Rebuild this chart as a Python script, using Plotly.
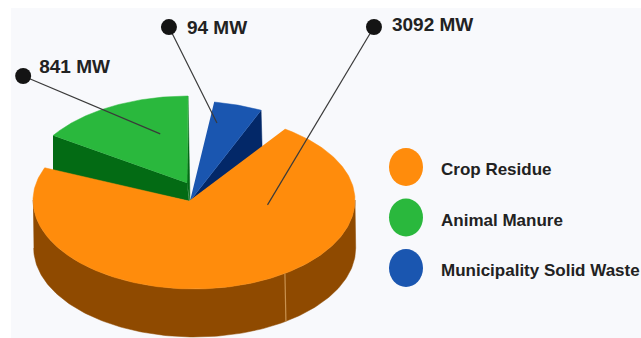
import numpy as np
import plotly.graph_objects as go

# Installed biomass capacity by source
categories = ["Crop Residue", "Animal Manure", "Municipality Solid Waste"]
capacity_mw = [3092, 841, 94]

# Slice palette: top face, side wall
TOP = ["#FF8C0C", "#2AB83D", "#1A56B0"]
WALL = ["#8F4A00", "#036B14", "#032868"]

WIDTH, HEIGHT = 641, 338
RX = 161

total = sum(capacity_mw)
sweep = [v / total * 360 for v in capacity_mw]

# Tilted-disc view: the camera stretches each wedge by its own amount
VIEW_STRETCH = [0.932, 0.758, 2.095]
START_T = [158.0, 90.0, 63.4]
END_T = [s + w * k for s, w, k in zip(START_T, sweep, VIEW_STRETCH)]


def rim(cx, cy, t_from, t_to, ry_up=87, ry_down=87, drop=0.0, n=160):
    t = np.radians(np.linspace(t_from, t_to, n))
    s = np.sin(t)
    x = cx + RX * np.cos(t)
    y = cy - s * np.where(s > 0, ry_up, ry_down) + drop
    return x, y


def polygon(xs, ys, color):
    return go.Scatter(x=list(xs), y=list(ys), mode="lines", fill="toself", fillcolor=color,
                      line=dict(color=color, width=0.5), hoverinfo="skip", showlegend=False)


def stroke(xs, ys, color, width):
    return go.Scatter(x=list(xs), y=list(ys), mode="lines", line=dict(color=color, width=width),
                      hoverinfo="skip", showlegend=False)


fig = go.Figure()

# Municipal waste wedge, lifted off the disc
bx, by = rim(189, 188, START_T[2], END_T[2])
apex_b = (190, 201)
fig.add_trace(polygon([bx[0], bx[0] + 1, apex_b[0]], [by[0], by[0] + 37, apex_b[1]], WALL[2]))
fig.add_trace(polygon([apex_b[0], *bx], [apex_b[1], *by], TOP[2]))

# Manure wedge, lifted further
gx, gy = rim(188, 183, START_T[1], END_T[1])
apex_g = (187, 183)
fig.add_trace(polygon([gx[-1], apex_g[0], 189, gx[-1]], [gy[-1], apex_g[1], 201, gy[-1] + 36], WALL[1]))
fig.add_trace(polygon([gx[0], 190, apex_g[0]], [gy[0], 201, apex_g[1]], WALL[1]))
fig.add_trace(polygon([apex_g[0], *gx], [apex_g[1], *gy], TOP[1]))

# Crop residue: outer wall, seam, then the top face
CX, CY, DEPTH = 194, 200, 48
ox, oy = rim(CX, CY, 180, 360, 86, 89)
ox2, oy2 = rim(CX + 0.7, CY, 360, 180, 86, 89, drop=DEPTH)
fig.add_trace(polygon([*ox, *ox2], [*oy, *oy2], WALL[0]))
sx, sy = rim(CX, CY, -(END_T[0] - 360), -(END_T[0] - 360), 86, 89, n=1)
fig.add_trace(stroke([sx[0], sx[0] + 1], [sy[0], sy[0] + DEPTH], "#C9924F", 1.2))
tx, ty = rim(CX, CY, START_T[0], END_T[0], 86, 89, n=300)
fig.add_trace(polygon([189, *tx], [201, *ty], TOP[0]))

# Value call-outs: leader from a point on the wedge out to a dot
frames = [(CX, CY), (188, 183), (189, 188)]
anchor_polar = [(0.46, -7.0), (0.59, 107.0), (0.767, 76.9)]
leader_polar = [(207.3, 59.1), (148.8, 157.1), (107.3, 116.6)]
label_offset = [(18, -1), (16, -8), (18, 2)]
for i, v in enumerate(capacity_mw):
    cx, cy = frames[i]
    r, t = anchor_polar[i]
    ax = cx + r * RX * np.cos(np.radians(t))
    ay = cy - r * 87 * np.sin(np.radians(t))
    length, direction = leader_polar[i]
    dx = ax + length * np.cos(np.radians(direction))
    dy = ay - length * np.sin(np.radians(direction))
    fig.add_trace(stroke([ax, dx], [ay, dy], "#3A3A3A", 1.2))
    fig.add_trace(go.Scatter(x=[dx], y=[dy], mode="markers",
                             marker=dict(size=16, color="#141414"),
                             hoverinfo="skip", showlegend=False))
    fig.add_trace(go.Scatter(x=[dx + label_offset[i][0]], y=[dy + label_offset[i][1]],
                             mode="text", text=[f"{v} MW"], textposition="middle right",
                             textfont=dict(family="Liberation Sans", size=19, color="#222222",
                                           weight="bold"),
                             hoverinfo="skip", showlegend=False))

# Key on the right
shapes = [dict(type="rect", xref="x", yref="y", x0=11, x1=WIDTH, y0=8, y1=HEIGHT,
               fillcolor="#F8F9FC", line=dict(width=0), layer="below")]
KEY_X, KEY_Y, KEY_STEP = 406, 167, 50.5
for i, name in enumerate(categories):
    yc = KEY_Y + i * KEY_STEP
    shapes.append(dict(type="circle", xref="x", yref="y", x0=KEY_X - 17, x1=KEY_X + 17,
                       y0=yc - 19, y1=yc + 19, fillcolor=TOP[i], line=dict(width=0)))
    fig.add_trace(go.Scatter(x=[441], y=[yc + 4], mode="text", text=[name],
                             textposition="middle right",
                             textfont=dict(family="Liberation Sans", size=17, color="#222222",
                                           weight="bold"),
                             hoverinfo="skip", showlegend=False))

fig.update_layout(
    width=WIDTH, height=HEIGHT, margin=dict(l=0, r=0, t=0, b=0),
    paper_bgcolor="white", plot_bgcolor="white", shapes=shapes, showlegend=False,
    xaxis=dict(range=[0, WIDTH], visible=False, fixedrange=True),
    yaxis=dict(range=[HEIGHT, 0], visible=False, fixedrange=True),
)
fig.write_html("out.html", config={"displayModeBar": False})
